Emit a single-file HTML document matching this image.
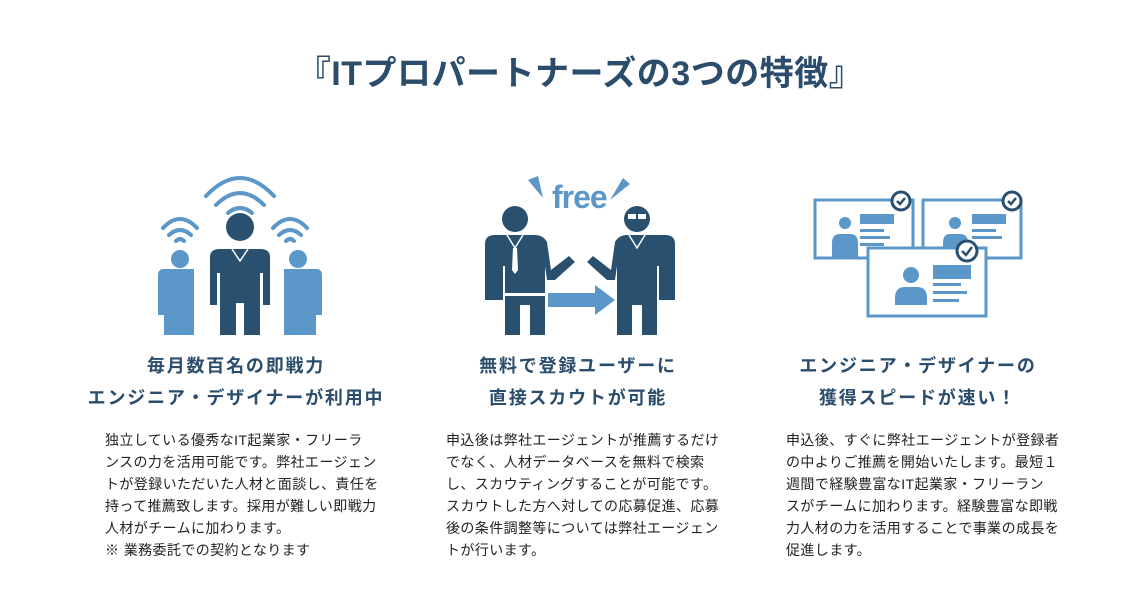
<!DOCTYPE html>
<html><head><meta charset="utf-8">
<style>
html,body{margin:0;padding:0;background:#fff;}
body{width:1148px;height:598px;position:relative;overflow:hidden;font-family:"Liberation Sans","Noto Sans CJK JP",sans-serif;}
.title{position:absolute;left:6px;width:1148px;top:46px;text-align:center;font-size:34px;font-weight:bold;color:#2b4d6b;letter-spacing:0.5px;white-space:nowrap;}
.h{position:absolute;text-align:center;font-size:18px;font-weight:bold;color:#2b4d6b;letter-spacing:1.8px;line-height:32px;white-space:nowrap;width:400px;}
.b{position:absolute;font-size:14px;letter-spacing:0.4px;line-height:22px;color:#222;white-space:nowrap;}
svg{position:absolute;}
</style></head><body>
<div class="title">『ITプロパートナーズの3つの特徴』</div>

<svg style="left:150px;top:165px" width="180" height="170" viewBox="0 0 180 170">
 <g fill="none" stroke="#5b97c8" stroke-width="4" stroke-linecap="round">
  <path d="M56 31 Q90 -5 124 31"/><path d="M66 40 Q90 16 114 40"/><path d="M78 48 Q90 38 102 48"/>
  <path d="M13 63 Q30 45 47 63"/><path d="M19 70 Q30 60 41 70"/><path d="M26 76 Q30 72 34 76"/>
  <path d="M123 63 Q140 45 157 63"/><path d="M129 70 Q140 60 151 70"/><path d="M136 76 Q140 72 144 76"/>
 </g>
 <g fill="#5b97c8">
  <circle cx="30" cy="94" r="9"/>
  <path d="M8 110 Q8 104 14 104 L44 104 L44 170 L14 170 L14 150 L8 150 Z"/>
  <circle cx="148" cy="94" r="9"/>
  <path d="M134 104 L166 104 Q172 104 172 110 L172 150 L166 150 L166 170 L134 170 Z"/>
 </g>
 <g fill="#2a5070">
  <circle cx="90" cy="62" r="14"/>
  <path d="M60 92 Q60 84 70 84 L110 84 Q120 84 120 92 L120 140 L113 140 L113 108 L110 108 L110 170 L94 170 L94 138 L86 138 L86 170 L70 170 L70 108 L67 108 L67 140 L60 140 Z"/>
 </g>
 <path d="M82 84 L90 96 L98 84" fill="none" stroke="#fff" stroke-width="1.5"/>
</svg>

<svg style="left:475px;top:170px" width="210" height="165" viewBox="0 0 210 165">
 <text x="77" y="38" font-family="Liberation Sans Narrow,Liberation Sans,sans-serif" font-weight="bold" font-size="32" fill="#5b97c8" letter-spacing="-1">free</text>
 <polygon points="53,10 63,6 68,28" fill="#5b97c8"/>
 <polygon points="148,8 155,14 135,30" fill="#5b97c8"/>
 <g fill="#2a5070">
  <circle cx="40" cy="49" r="13"/>
  <path d="M10 74 Q10 65 20 65 L60 65 Q68 65 72 72 L76 100 L94 86 L100 92 L80 110 L72 110 L70 96 L70 165 L55 165 L55 135 L45 135 L45 165 L30 165 L30 96 L28 96 L28 130 L10 130 Z"/>
  <circle cx="162" cy="49" r="13"/>
  <path d="M200 74 Q200 65 190 65 L152 65 Q144 65 140 72 L136 100 L118 86 L112 92 L132 110 L140 110 L142 96 L142 165 L157 165 L157 135 L167 135 L167 165 L182 165 L182 96 L184 96 L184 130 L200 130 Z"/>
 </g>
 <rect x="153" y="44" width="8" height="5" fill="#fff"/><rect x="163" y="44" width="8" height="5" fill="#fff"/>
 <path d="M32 65 L40 78 L48 65" fill="none" stroke="#fff" stroke-width="1.5"/>
 <path d="M38 78 L42 78 L43 100 L40 104 L37 100 Z" fill="#fff"/>
 <rect x="30" y="123" width="40" height="3" fill="#fff"/>
 <rect x="73" y="123" width="55" height="14" fill="#5b97c8"/>
 <polygon points="120,115 140,130 120,145" fill="#5b97c8"/>
 <path d="M154 65 L162 78 L170 65" fill="none" stroke="#fff" stroke-width="1.5"/>
</svg>

<svg style="left:805px;top:185px" width="230" height="135" viewBox="0 0 230 135">
 <g fill="#fff" stroke="#5b97c8" stroke-width="3">
  <rect x="10" y="15" width="98" height="58"/>
  <rect x="118" y="15" width="98" height="58"/>
  <rect x="63" y="63" width="118" height="68"/>
 </g>
 <g fill="#5b97c8">
  <circle cx="40" cy="38" r="6"/><path d="M27 58 Q27 49 35 49 L45 49 Q53 49 53 58 L53 72 L27 72 Z"/>
  <rect x="55" y="29" width="34" height="10"/><rect x="55" y="44" width="24" height="3"/><rect x="55" y="51" width="30" height="3"/><rect x="55" y="58" width="24" height="3"/>
  <circle cx="150" cy="38" r="6"/><path d="M138 58 Q138 49 145 49 L155 49 Q163 49 163 58 L163 62 L138 62 Z"/>
  <rect x="167" y="29" width="34" height="10"/><rect x="167" y="44" width="24" height="3"/><rect x="167" y="51" width="30" height="3"/>
  <circle cx="106" cy="90" r="8"/><path d="M90 113 Q90 102 100 102 L112 102 Q122 102 122 113 L122 120 L90 120 Z"/>
  <rect x="128" y="80" width="38" height="14"/><rect x="128" y="98" width="28" height="3"/><rect x="128" y="106" width="34" height="3"/><rect x="128" y="114" width="26" height="3"/>
 </g>
 <g fill="#fff" stroke="#2a5070" stroke-width="3">
  <circle cx="96" cy="16" r="9"/><circle cx="207" cy="16" r="9"/><circle cx="162" cy="66" r="10"/>
 </g>
 <g fill="none" stroke="#2a5070" stroke-width="2.5">
  <path d="M92 16 L95 19 L100 13"/><path d="M203 16 L206 19 L211 13"/><path d="M157 66 L161 70 L167 62"/>
 </g>
</svg>

<div class="h" style="left:36px;top:350px">毎月数百名の即戦力<br>エンジニア・デザイナーが利用中</div>
<div class="h" style="left:378px;top:350px">無料で登録ユーザーに<br>直接スカウトが可能</div>
<div class="h" style="left:718px;top:350px">エンジニア・デザイナーの<br>獲得スピードが速い！</div>

<div class="b" style="left:105px;top:429px">独立している優秀なIT起業家・フリーラ<br>ンスの力を活用可能です。弊社エージェン<br>トが登録いただいた人材と面談し、責任を<br>持って推薦致します。採用が難しい即戦力<br>人材がチームに加わります。<br>※ 業務委託での契約となります</div>
<div class="b" style="left:446px;top:429px">申込後は弊社エージェントが推薦するだけ<br>でなく、人材データベースを無料で検索<br>し、スカウティングすることが可能です。<br>スカウトした方へ対しての応募促進、応募<br>後の条件調整等については弊社エージェン<br>トが行います。</div>
<div class="b" style="left:786px;top:429px">申込後、すぐに弊社エージェントが登録者<br>の中よりご推薦を開始いたします。最短１<br>週間で経験豊富なIT起業家・フリーラン<br>スがチームに加わります。経験豊富な即戦<br>力人材の力を活用することで事業の成長を<br>促進します。</div>
</body></html>
